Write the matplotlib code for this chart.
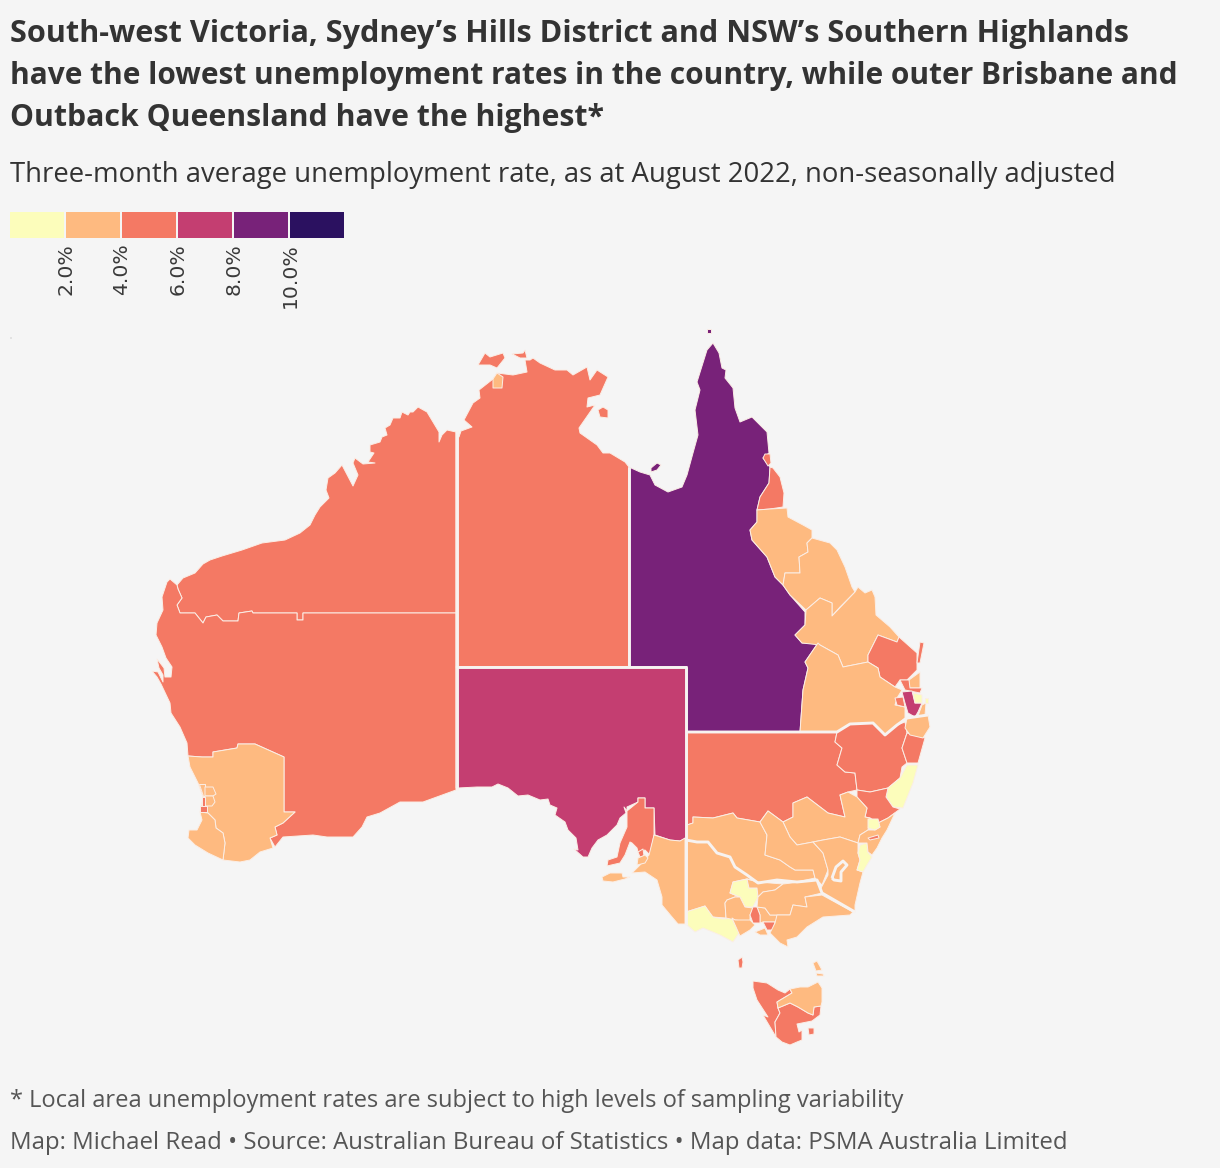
import matplotlib

matplotlib.use("Agg")
import matplotlib.pyplot as plt
import numpy as np
from matplotlib.patches import Polygon

BACKGROUND = "#f5f5f5"
TITLE = [
    "South-west Victoria, Sydney\u2019s Hills District and NSW\u2019s Southern Highlands",
    "have the lowest unemployment rates in the country, while outer Brisbane and",
    "Outback Queensland have the highest*",
]
TITLE_SIZES = [22.1, 21.5, 21.75]
SUBTITLE = "Three-month average unemployment rate, as at August 2022, non-seasonally adjusted"
NOTE = "* Local area unemployment rates are subject to high levels of sampling variability"
SOURCE = "Map: Michael Read \u2022 Source: Australian Bureau of Statistics \u2022 Map data: PSMA Australia Limited"

bin_edges = [2, 4, 6, 8, 10]
bin_labels = ["2.0%", "4.0%", "6.0%", "8.0%", "10.0%"]
bin_colors = ["#fcfdbb", "#feba80", "#f47964", "#c43e71", "#782279", "#2b1160"]

# outlines, in map units
wa_outback = [(456,432),(447,430),(442,435),(439,442),(439,432),(433,422),(427,412),(418,407),(413,412),(410,412),(408,415),(402,412),(400,418),(393,418),(390,425),(385,428),(387,435),(382,437),(380,442),(370,445),(370,452),(374,453),(368,462),(375,463),(363,464),(355,458),(353,463),(358,475),(353,486),(342,465),(335,473),(328,478),(326,490),(329,498),(320,507),(315,515),(310,525),(300,533),(285,540),(262,543),(242,550),(222,556),(210,560),(203,564),(195,573),(183,578),(177,585),(178,589),(182,598),(177,605),(180,613),(195,613),(203,623),(206,617),(217,615),(223,621),(238,621),(239,613),(252,611),(253,613),(297,613),(297,620),(303,620),(303,613),(456,613)]
wa_goldfields = [(177,585),(170,579),(167,582),(162,597),(163,610),(157,623),(156,635),(162,647),(166,658),(172,667),(171,677),(165,677),(164,668),(157,659),(159,668),(163,675),(163,682),(158,672),(152,671),(157,677),(161,684),(170,703),(171,713),(180,727),(187,743),(188,756),(202,757),(213,757),(213,752),(237,748),(238,744),(255,744),(284,757),(284,812),(295,812),(283,823),(275,827),(277,835),(270,838),(275,847),(283,837),(313,835),(327,837),(353,837),(362,827),(367,817),(380,813),(400,802),(423,802),(456,790),(456,613),(303,613),(303,620),(297,620),(297,613),(253,613),(252,611),(239,613),(238,621),(223,621),(217,615),(206,617),(203,623),(195,613),(180,613),(177,605),(182,598),(178,589)]
wa_wheatbelt = [(188,756),(202,757),(213,757),(213,752),(237,748),(238,744),(255,744),(284,757),(284,812),(295,812),(283,823),(275,827),(277,835),(270,838),(273,848),(260,852),(250,860),(240,862),(223,860),(225,843),(223,833),(216,828),(215,820),(208,813),(200,812),(203,797),(198,783),(190,767)]
wa_south_west = [(200,812),(208,813),(215,820),(216,828),(223,833),(225,843),(223,860),(208,853),(195,845),(188,838),(189,830),(197,830),(202,820)]
perth_north = [(199,784),(205,784),(205,796),(203,796)]
perth_hills = [(205,787),(213,787),(216,794),(213,796),(205,796)]
perth_east = [(205,796),(213,796),(215,802),(212,806),(205,806)]
perth_inner = [(202,797),(205,797),(205,806),(202,806)]
perth_south = [(200,806),(207,806),(207,812),(200,812)]

nt_main = [(456,432),(459,437),(461,431),(472,427),(464,420),(473,403),(480,398),(479,390),(493,379),(497,373),(513,375),(527,372),(525,360),(530,360),(533,358),(540,363),(555,370),(567,370),(573,375),(587,367),(590,380),(597,370),(608,377),(600,395),(588,398),(587,407),(595,405),(579,428),(580,433),(597,445),(603,453),(610,453),(625,462),(629,467),(629,667),(456,667)]
nt_darwin = [(493,379),(497,373),(503,377),(502,388),(493,388)]
tiwi_west = [(478,365),(485,353),(490,357),(503,353),(505,358),(497,368),(490,365)]
tiwi_east = [(512,354),(523,353),(525,350),(527,358),(520,358)]
groote = [(598,410),(603,407),(608,410),(608,418),(600,417)]

qld_outback = [(629,467),(640,472),(650,475),(655,485),(668,492),(682,487),(687,475),(693,453),(698,435),(695,410),(700,390),(697,382),(707,350),(713,343),(719,353),(722,368),(726,370),(725,378),(733,388),(735,408),(740,422),(752,417),(767,432),(769,453),(763,458),(770,467),(769,483),(760,497),(757,510),(757,522),(750,530),(752,540),(767,557),(775,577),(783,585),(790,595),(805,612),(805,625),(795,635),(802,643),(818,643),(805,662),(808,668),(803,690),(800,732),(687,732),(687,667),(629,667)]
torres = [(707,329),(711,329),(711,333),(707,333)]
mornington = [(651,468),(657,463),(661,465),(657,470),(651,472)]
qld_cairns = [(763,458),(765,454),(770,454),(771,463),(768,466)]
qld_townsville = [(770,467),(773,468),(780,477),(784,493),(783,507),(770,509),(757,510),(760,497),(769,483)]
qld_mackay = [(757,510),(770,509),(787,508),(788,517),(803,525),(812,530),(812,538),(807,543),(808,552),(799,557),(800,573),(785,573),(783,585),(775,577),(767,557),(752,540),(750,530),(757,522)]
qld_isaac = [(812,538),(830,543),(837,550),(845,567),(852,587),(855,592),(840,607),(832,616),(832,603),(820,598),(806,610),(790,595),(783,585),(785,573),(800,573),(799,557),(808,552),(807,543)]
qld_fitzroy = [(855,592),(858,587),(865,593),(872,590),(875,597),(876,615),(890,627),(899,637),(897,642),(878,635),(868,655),(868,662),(843,667),(838,655),(820,645),(802,643),(795,635),(805,625),(806,610),(820,598),(832,603),(832,616)]
qld_wide_bay = [(878,635),(897,642),(899,637),(917,653),(917,670),(907,680),(900,680),(895,687),(880,677),(878,668),(868,662),(868,655)]
fraser = [(920,642),(924,643),(920,663),(917,663)]
qld_sunshine = [(909,680),(920,672),(920,688),(908,688)]
qld_moreton = [(900,680),(909,680),(910,688),(922,688),(920,693),(905,690)]
qld_downs = [(820,645),(838,655),(843,667),(868,662),(878,668),(880,677),(895,687),(902,690),(897,698),(895,705),(905,707),(905,718),(897,725),(885,735),(873,723),(850,724),(837,732),(800,732),(803,690),(808,668),(805,662),(818,643)]
qld_ipswich = [(895,698),(903,697),(905,707),(897,705)]
qld_logan = [(902,692),(912,691),(915,703),(922,703),(918,712),(915,717),(908,713),(905,703)]
qld_brisbane = [(913,693),(922,695),(922,703),(915,703)]
qld_redlands = [(925,698),(928,698),(928,703),(925,703)]
qld_gold_coast = [(922,705),(926,703),(925,715),(918,716)]

nsw_far_west = [(687,732),(837,732),(835,742),(842,748),(837,765),(845,772),(855,773),(857,790),(848,792),(840,795),(845,817),(828,813),(807,797),(793,803),(793,817),(783,822),(768,811),(760,822),(737,818),(733,813),(713,818),(693,817),(693,823),(687,825)]
nsw_new_england = [(837,732),(850,724),(873,723),(885,735),(897,725),(905,722),(907,733),(902,748),(907,763),(902,767),(900,778),(888,788),(870,792),(857,790),(855,773),(845,772),(837,765),(842,748),(835,742)]
nsw_mid_north = [(907,733),(925,738),(918,763),(907,763),(902,748)]
nsw_richmond = [(907,718),(928,715),(930,727),(923,738),(910,735),(905,728)]
nsw_southern_coast = [(907,765),(918,765),(913,783),(903,808),(893,807),(886,797),(888,788),(900,778)]
nsw_hunter = [(857,790),(870,792),(888,788),(886,797),(893,807),(900,809),(888,818),(878,823),(870,818),(865,817),(867,808),(857,797)]
nsw_central_west = [(840,795),(848,792),(857,797),(867,808),(865,817),(870,818),(868,830),(860,835),(858,843),(840,837),(823,840),(813,842),(797,845),(790,837),(783,822),(793,817),(793,803),(807,797),(828,813),(845,817)]
nsw_murray = [(687,825),(693,823),(693,817),(713,818),(733,813),(737,818),(760,822),(767,835),(765,855),(780,860),(790,867),(795,870),(813,870),(815,878),(797,882),(777,880),(758,883),(747,875),(735,867),(730,857),(717,853),(708,842),(697,842),(687,840)]
nsw_riverina = [(760,822),(768,811),(783,822),(790,837),(797,845),(813,842),(823,853),(828,870),(822,885),(817,880),(815,878),(813,870),(795,870),(790,867),(780,860),(765,855),(767,835)]
nsw_south_east = [(813,842),(823,840),(840,837),(858,843),(858,853),(860,860),(857,870),(863,872),(860,883),(855,905),(855,912),(822,893),(820,890),(828,875),(828,870),(823,853)]
nsw_highlands = [(860,845),(867,843),(868,852),(872,857),(867,865),(863,872),(857,870),(860,860),(858,853)]
sydney_hills = [(868,819),(878,819),(880,827),(875,830),(868,828)]
sydney_coast = [(878,823),(888,818),(895,813),(887,830),(882,838),(877,848),(872,855),(868,852),(867,843),(858,843),(860,835),(868,830),(875,830),(880,827)]
sydney_inner = [(868,838),(878,835),(879,838),(870,840)]
act_ring = [(832,878),(836,867),(843,861),(847,865),(841,872),(841,881),(834,880),(832,878)]

vic_west = [(687,840),(697,842),(708,842),(717,853),(730,857),(735,867),(747,875),(752,880),(747,879),(733,882),(730,893),(740,897),(735,897),(727,900),(725,903),(726,918),(712,917),(705,906),(686,912)]
vic_south_west = [(686,912),(705,906),(713,917),(723,919),(732,918),(739,933),(733,942),(720,935),(703,928),(695,932),(686,924)]
vic_bendigo = [(733,882),(747,879),(749,888),(757,888),(758,897),(753,907),(745,907),(740,897),(730,893)]
vic_ballarat = [(725,903),(727,900),(735,897),(740,897),(745,907),(753,908),(750,915),(750,922),(735,920),(726,918)]
vic_geelong = [(735,920),(750,920),(755,925),(750,930),(740,936),(732,918)]
melb_north_west = [(753,907),(757,907),(760,915),(760,923),(753,923),(750,915)]
melb_south_east = [(763,922),(775,922),(773,930),(767,930)]
melb_east = [(757,907),(765,908),(770,915),(777,915),(777,922),(763,922),(760,923),(760,915)]
vic_shepparton = [(750,880),(758,882),(783,884),(775,890),(763,892),(758,897),(757,888),(749,888),(747,879)]
vic_hume = [(758,897),(763,892),(775,890),(783,884),(800,882),(817,880),(822,893),(805,897),(807,907),(793,905),(790,915),(777,915),(770,915),(765,908),(757,907)]
vic_gippsland = [(822,895),(853,912),(850,915),(823,917),(807,927),(797,937),(787,940),(788,947),(780,943),(770,933),(775,923),(777,915),(790,915),(793,905),(807,907),(805,897)]
vic_mornington = [(755,932),(765,928),(768,935),(760,935)]

sa_outback = [(456,667),(687,667),(687,838),(680,841),(670,840),(655,835),(654,808),(645,808),(645,798),(638,798),(638,802),(627,807),(627,811),(624,807),(626,813),(620,818),(617,825),(607,835),(598,840),(592,848),(588,857),(583,857),(574,849),(578,850),(576,838),(568,830),(565,822),(555,815),(557,808),(550,805),(548,799),(540,800),(528,795),(518,796),(508,788),(498,784),(492,787),(477,787),(458,788),(456,788)]
sa_mid_north = [(627,811),(638,802),(638,798),(645,798),(645,808),(654,808),(654,835),(650,855),(645,850),(638,852),(637,848),(632,843),(630,842),(625,855),(620,863),(607,866),(608,860),(617,857),(620,843),(627,827)]
sa_adelaide = [(638,852),(643,849),(644,856),(640,857)]
sa_south_east = [(654,835),(670,840),(680,841),(685,838),(685,924),(678,924),(672,917),(662,905),(662,897),(657,880),(645,872),(632,873),(640,865),(649,855)]
sa_hills = [(637,865),(638,858),(645,855),(648,858),(645,863)]
kangaroo = [(602,877),(610,873),(622,873),(623,877),(630,877),(625,879),(613,882),(603,881)]

king_island = [(738,960),(742,957),(743,962),(742,968),(739,968)]
flinders = [(813,963),(817,961),(822,970),(816,971)]
cape_barren = [(816,973),(823,974),(824,976),(817,976)]
tas_west = [(753,981),(767,983),(778,990),(785,993),(790,989),(792,993),(777,1002),(778,1008),(780,1013),(775,1022),(776,1037),(763,1015),(768,1017),(757,1000),(753,988)]
tas_south = [(778,1008),(790,1003),(798,1007),(808,1013),(813,1015),(814,1007),(821,1006),(820,1015),(812,1021),(797,1024),(799,1032),(802,1030),(802,1040),(797,1042),(790,1045),(782,1042),(776,1037),(775,1022),(780,1013)]
tas_peninsula = [(808,1028),(814,1028),(814,1034),(809,1035)]
tas_north_east = [(790,989),(800,987),(808,987),(818,982),(822,988),(822,1002),(821,1006),(814,1007),(813,1015),(808,1013),(798,1007),(790,1003),(778,1008),(777,1002),(792,993)]

# rate for each region, drawn in this order
regions = [
    (wa_outback, 5.2), (wa_goldfields, 5.0), (wa_wheatbelt, 3.4), (wa_south_west, 3.2),
    (perth_north, 3.5), (perth_hills, 3.6), (perth_east, 3.5), (perth_inner, 4.6), (perth_south, 4.8),
    (nt_main, 4.7), (nt_darwin, 3.6), (tiwi_west, 4.7), (tiwi_east, 4.7), (groote, 4.7),
    (qld_outback, 9.2), (torres, 9.2), (mornington, 9.2), (qld_cairns, 4.5), (qld_townsville, 4.5),
    (qld_mackay, 3.1), (qld_isaac, 3.2), (qld_fitzroy, 3.3), (qld_wide_bay, 5.2), (fraser, 5.2),
    (qld_sunshine, 3.2), (qld_moreton, 4.6), (qld_downs, 3.4), (qld_ipswich, 5.1), (qld_logan, 7.2),
    (qld_brisbane, 1.9), (qld_redlands, 1.9), (qld_gold_coast, 3.5),
    (nsw_far_west, 4.8), (nsw_new_england, 4.6), (nsw_mid_north, 4.7), (nsw_richmond, 3.3),
    (nsw_southern_coast, 1.8), (nsw_hunter, 4.4), (nsw_central_west, 3.0), (nsw_murray, 3.0),
    (nsw_riverina, 2.9), (nsw_south_east, 2.8), (nsw_highlands, 1.5), (sydney_coast, 3.0),
    (sydney_hills, 1.4), (sydney_inner, 4.5), (act_ring, 2.9),
    (vic_west, 3.1), (vic_south_west, 1.6), (vic_bendigo, 1.9), (vic_ballarat, 3.0), (vic_geelong, 3.3),
    (melb_east, 3.4), (melb_north_west, 5.1), (melb_south_east, 4.9), (vic_shepparton, 3.1), (vic_hume, 3.0),
    (vic_gippsland, 3.2), (vic_mornington, 3.4),
    (sa_outback, 7.0), (sa_mid_north, 5.1), (sa_adelaide, 5.5), (sa_south_east, 3.4), (sa_hills, 3.3), (kangaroo, 3.3),
    (king_island, 4.5), (flinders, 3.4), (cape_barren, 3.4), (tas_west, 5.3), (tas_south, 4.8), (tas_peninsula, 4.6), (tas_north_east, 3.5),
]

# state borders
wa_border = [(456.5,430),(456.5,790)]
nt_qld_border = [(629,467),(629,667)]
sa_north_border = [(456,667),(687,667)]
sa_east_border = [(686,667),(686,925)]
qld_nsw_border = [(687,732),(837,732),(850,724),(873,723),(885,735),(897,725),(907,718),(928,715)]
murray_border = [(686,840),(697,842),(708,842),(717,853),(730,857),(735,867),(747,875),(758,883),(777,880),(797,882),(817,880),(822,893),(855,912)]
state_borders = [wa_border, nt_qld_border, sa_north_border, sa_east_border, qld_nsw_border, murray_border, act_ring]

# faint speck at the far top left of the map
speck = [(10,337),(12,337),(12,339),(10,339)]

plt.rcParams["font.family"] = ["Open Sans", "DejaVu Sans"]
fig = plt.figure(figsize=(12.2, 11.68), dpi=100, facecolor=BACKGROUND)
ax = fig.add_axes([0, 0, 1, 1])
ax.set_xlim(0, 1220)
ax.set_ylim(1168, 0)
ax.axis("off")

for outline, rate in regions:
    color = bin_colors[np.digitize(rate, bin_edges)]
    ax.add_patch(Polygon(outline, closed=True, facecolor=color, edgecolor="#fbeee6", linewidth=0.7, joinstyle="round"))

ax.add_patch(Polygon(speck, closed=True, facecolor="#e2e2e2", edgecolor="none"))

for line in state_borders:
    xs, ys = zip(*line)
    ax.plot(xs, ys, color="#f7f3f1", linewidth=2.1, solid_joinstyle="round", solid_capstyle="butt")

# legend
leg = fig.add_axes([10 / 1220, 1 - 238 / 1168, 334 / 1220, 26 / 1168])
leg.bar(np.arange(6), 1, width=54 / 56, align="edge", color=bin_colors)
leg.set_xlim(0, 334 / 56)
leg.set_ylim(0, 1)
leg.axis("off")
for i, label in enumerate(bin_labels):
    leg.annotate(label, xy=(i + 1, 0), xytext=(0, -4), textcoords="offset points", rotation=90,
                 ha="center", va="top", fontsize=14.7, color="#3a3a3a", family="DejaVu Sans")

for i, line in enumerate(TITLE):
    fig.text(10 / 1220, 1 - (34 + i * 42) / 1168, line, fontsize=TITLE_SIZES[i], fontweight="bold", color="#333333", va="center")
fig.text(10 / 1220, 1 - 175 / 1168, SUBTITLE, fontsize=19.8, color="#333333", va="center")
fig.text(10 / 1220, 1 - 1101 / 1168, NOTE, fontsize=17, color="#555555", va="center")
fig.text(10 / 1220, 1 - 1143 / 1168, SOURCE, fontsize=17.3, color="#555555", va="center")

fig.savefig("out.png", dpi=100, facecolor=BACKGROUND)
